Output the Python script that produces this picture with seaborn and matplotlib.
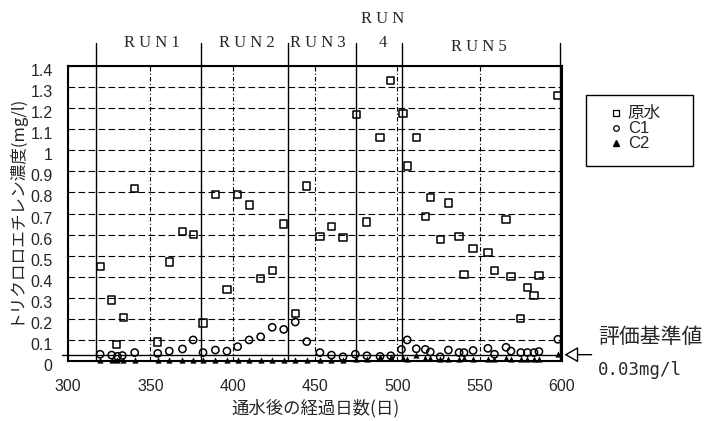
import pandas as pd
import matplotlib.pyplot as plt
import seaborn as sns
from matplotlib import font_manager
from matplotlib.font_manager import FontProperties
from matplotlib.lines import Line2D
from matplotlib.patches import Rectangle
from matplotlib.transforms import ScaledTranslation

# raw water (原水)
raw_days = [319.5, 326.5, 329.5, 333.5, 340.5, 354.5, 361.5, 369.5, 376, 382,
            389.5, 396.5, 403, 410, 417, 424, 431, 438, 445, 453,
            460, 467, 475, 481.5, 489.5, 496, 503.5, 506, 511.5, 517,
            520, 526, 531, 537.5, 540.5, 546, 555, 559, 566, 569,
            575, 579, 583, 586, 597.5]
raw_vals = [0.45, 0.29, 0.08, 0.205, 0.82, 0.09, 0.47, 0.615, 0.60, 0.18,
            0.79, 0.34, 0.79, 0.74, 0.39, 0.43, 0.65, 0.225, 0.83, 0.59,
            0.64, 0.585, 1.17, 0.66, 1.06, 1.33, 1.175, 0.925, 1.06, 0.685,
            0.775, 0.575, 0.75, 0.59, 0.41, 0.535, 0.515, 0.43, 0.67, 0.40,
            0.20, 0.35, 0.31, 0.405, 1.26]

# C1
c1_days = [319.5, 326.5, 330, 333, 340.5, 354.5, 361.5, 369.5, 376, 382,
           389.5, 396.5, 403, 410, 417, 424, 431, 438, 445, 453,
           460, 467, 474.5, 481.5, 489.5, 496, 502.5, 506, 511.5, 517,
           520, 526, 531, 537.5, 540.5, 546, 555, 559, 566, 569,
           575, 579, 583, 586, 597.5]
c1_vals = [0.032, 0.028, 0.022, 0.026, 0.04, 0.036, 0.047, 0.057, 0.10, 0.04,
           0.052, 0.047, 0.068, 0.10, 0.115, 0.16, 0.15, 0.185, 0.092, 0.04,
           0.028, 0.02, 0.032, 0.025, 0.022, 0.025, 0.055, 0.10, 0.058, 0.055,
           0.043, 0.02, 0.052, 0.04, 0.04, 0.05, 0.06, 0.032, 0.065, 0.047,
           0.04, 0.04, 0.04, 0.045, 0.103]

# C2
c2_days = raw_days
c2_vals = [0.005, 0.005, 0.005, 0.005, 0.005, 0.005, 0.005, 0.005, 0.005, 0.005,
           0.005, 0.005, 0.005, 0.005, 0.005, 0.005, 0.005, 0.005, 0.005, 0.005,
           0.005, 0.005, 0.01, 0.01, 0.02, 0.02, 0.015, 0.01, 0.03, 0.012,
           0.012, 0.01, 0.01, 0.01, 0.015, 0.01, 0.01, 0.01, 0.015, 0.01,
           0.01, 0.01, 0.01, 0.01, 0.033]

run_bounds = [317, 380.5, 433.5, 475, 503, 599]
run_names = ['R U N 1', 'R U N 2', 'R U N 3', '4', 'R U N 5']
run_name_days = [351, 408.5, 451.5, 491, 549.5]

criterion = 0.03
x_ticks = [300, 350, 400, 450, 500, 550, 600]
y_ticks = [0, 0.1, 0.2, 0.3, 0.4, 0.5, 0.6, 0.7, 0.8, 0.9, 1.0, 1.1, 1.2, 1.3, 1.4]
y_tick_labels = ['0', '0.1', '0.2', '0.3', '0.4', '0.5', '0.6', '0.7', '0.8',
                 '0.9', '1', '1.1', '1.2', '1.3', '1.4']

W, H = 713, 421


def px(x, y):
    return x / W, 1 - y / H


def has_font(name):
    try:
        font_manager.findfont(FontProperties(family=name), fallback_to_default=False)
        return True
    except ValueError:
        return False


sns.set_theme(style='white')
plt.rcParams['font.family'] = ['Liberation Sans', 'Noto Sans CJK JP']
jp = ['Noto Sans CJK JP', 'DejaVu Sans']
if has_font('Liberation Sans Narrow'):
    num, num_size = ['Liberation Sans Narrow'], 13
else:
    num, num_size = ['Liberation Sans'], 11.5

fig = plt.figure(figsize=(W / 100, H / 100), dpi=100)
ax = fig.add_axes([68 / W, 1 - 361 / H, 494 / W, 295 / H])

raw = pd.DataFrame({'day': raw_days, 'val': raw_vals})
c1 = pd.DataFrame({'day': c1_days, 'val': c1_vals})
c2 = pd.DataFrame({'day': c2_days, 'val': c2_vals})

sns.scatterplot(data=raw, x='day', y='val', marker='s', s=27, color='black',
                edgecolor='black', linewidth=1.1, ax=ax, zorder=5, clip_on=False)
ax.collections[-1].set_facecolor('none')
sns.scatterplot(data=c1, x='day', y='val', marker='o', s=27, color='black',
                edgecolor='black', linewidth=1.1, ax=ax, zorder=5, clip_on=False)
ax.collections[-1].set_facecolor('none')
sns.scatterplot(data=c2, x='day', y='val', marker='^', s=20, color='black',
                edgecolor='black', linewidth=0, ax=ax, zorder=6, clip_on=False)

ax.set_xlim(300, 600)
ax.set_ylim(0, 1.4)
ax.set_xticks(x_ticks)
ax.set_yticks(y_ticks)
ax.set_yticklabels(y_tick_labels)
ax.tick_params(length=0, labelsize=num_size)
ax.tick_params(axis='x', pad=13)
ax.tick_params(axis='y', pad=11)
for lab in ax.get_xticklabels() + ax.get_yticklabels():
    lab.set_family(num)
off = ScaledTranslation(0, -4 / 100, fig.dpi_scale_trans)
for lab in ax.get_yticklabels():
    lab.set_transform(lab.get_transform() + off)

ax.grid(axis='y', color='black', lw=0.8, ls=(0, (6, 3)))
ax.grid(axis='x', color='black', lw=0.8, ls=(0, (4, 2, 1, 2)))
for sp in ax.spines.values():
    sp.set_color('black')
    sp.set_linewidth(1.5)

for d in run_bounds:
    ax.axvline(d, ymin=0, ymax=1.078, color='black', lw=1, clip_on=False, zorder=3)
ax.axhline(criterion, xmin=-0.012, xmax=1, color='black', lw=1, clip_on=False, zorder=3)

tr = ax.get_xaxis_transform()
for name, d in zip(run_names, run_name_days):
    yy = 1.064 if name == 'R U N 5' else 1.078
    ax.text(d, yy, name, transform=tr, ha='center', va='center',
            family='Liberation Serif', fontsize=12)
ax.text(run_name_days[3], 1.159, 'R U N', transform=tr, ha='center', va='center',
        family='Liberation Serif', fontsize=12)

ax.set_xlabel('通水後の経過日数(日)', family=jp, fontsize=12.5)
ax.xaxis.set_label_coords(0.502, -0.13)
ax.set_ylabel('トリクロロエチレン濃度(mg/l)', family=jp, fontsize=12)
ax.yaxis.label.set_va('center')
ax.yaxis.set_label_coords(-0.108, 0.515)

# criterion annotation
ax.annotate('', xy=(601.5, criterion), xytext=(618, criterion),
            arrowprops=dict(arrowstyle='-|>,head_length=0.7,head_width=0.4',
                            fc='white', ec='black', lw=1, mutation_scale=12,
                            shrinkA=0, shrinkB=0),
            annotation_clip=False)
fig.text(*px(598, 337), '評価基準値', family=jp, fontsize=15, ha='left', va='center')
fig.text(*px(598, 370), '0.03mg/l', family='DejaVu Sans Mono', fontsize=12.5,
         ha='left', va='center')

# legend
fig.patches.append(Rectangle(px(586, 166), 107 / W, 71 / H, transform=fig.transFigure,
                             fill=False, ec='black', lw=1))
handles = [
    Line2D([], [], marker='s', ls='', mfc='none', mec='black', ms=4, mew=0.9),
    Line2D([], [], marker='o', ls='', mfc='none', mec='black', ms=4, mew=0.9),
    Line2D([], [], marker='^', ls='', mfc='black', mec='black', ms=4),
]
fig.legend(handles, ['原水', 'C1', 'C2'], loc='upper left',
           bbox_to_anchor=px(601, 98), frameon=False, fontsize=12,
           handlelength=0.8, handletextpad=0.3, labelspacing=0.0, borderpad=0)

fig.savefig('out.png', dpi=100)
